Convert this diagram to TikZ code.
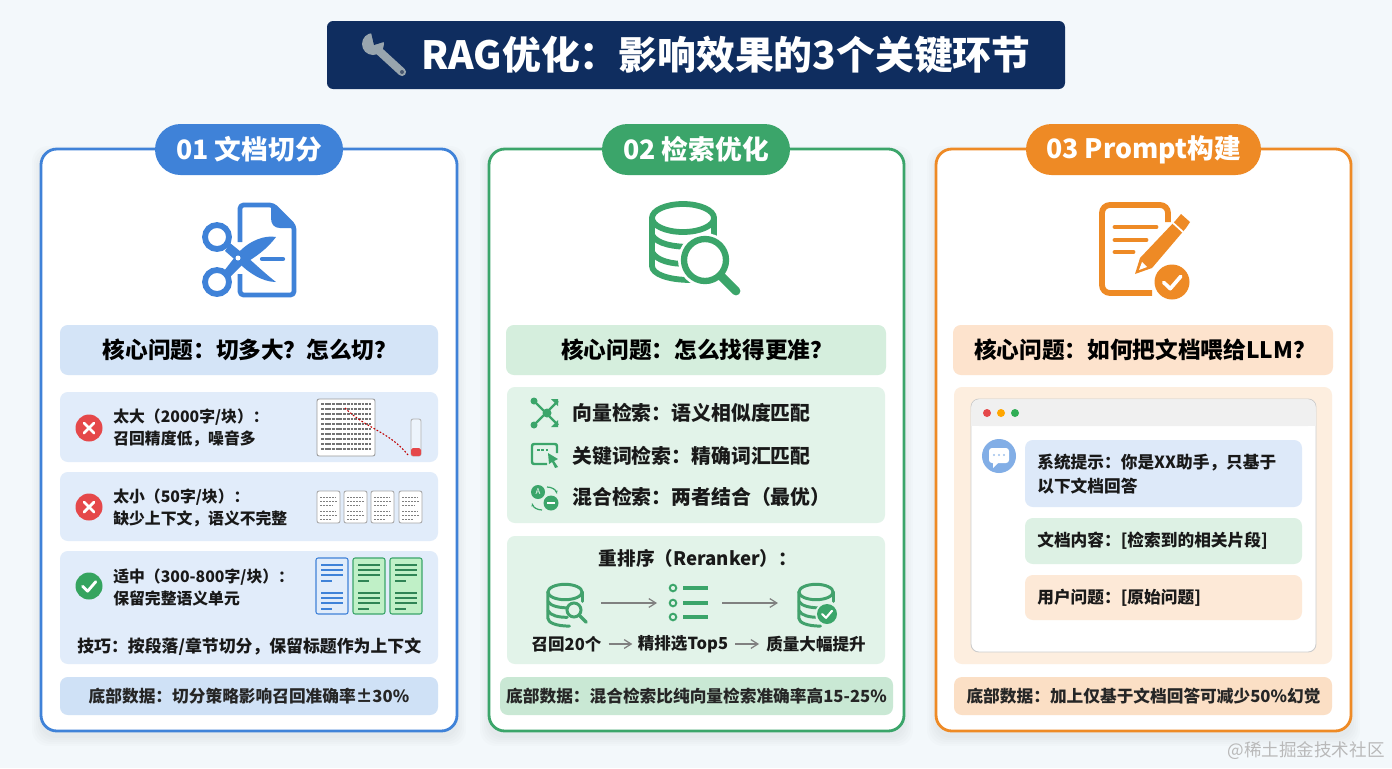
\documentclass[tikz,border=0pt]{standalone}
\usepackage{fontspec}
\setmainfont{Noto Sans CJK SC}
\usetikzlibrary{arrows.meta}

\definecolor{pagebg}{HTML}{F3F8FB}
\definecolor{navy}{HTML}{0F2D5F}
\definecolor{blueA}{HTML}{3F82D8}
\definecolor{blueB}{HTML}{D4E4F7}
\definecolor{blueC}{HTML}{E1ECFA}
\definecolor{blueD}{HTML}{CFE1F6}
\definecolor{greenA}{HTML}{3BA56A}
\definecolor{greenB}{HTML}{D5EEDD}
\definecolor{greenC}{HTML}{E2F3E9}
\definecolor{greenD}{HTML}{C9E8D4}
\definecolor{orangeA}{HTML}{EE8A25}
\definecolor{orangeB}{HTML}{FDE3CD}
\definecolor{orangeC}{HTML}{FDEEDF}
\definecolor{orangeD}{HTML}{FBDFC5}
\definecolor{badred}{HTML}{E5484A}
\definecolor{goodgreen}{HTML}{35A45F}
\definecolor{steelgray}{HTML}{98A5AE}

\newcommand{\softshadow}[4]{%
  \foreach \s in {1,3,5,7,9} {
    \fill[black, opacity=0.012, rounded corners=9pt] (#1-\s,#2-\s+6) rectangle (#3+\s,#4+\s+6);
  }}
\newcommand{\checkbadge}[4]{%
  \fill[#4] (#1,#2) circle (#3);
  \draw[white, line width=0.12*#3 pt, line cap=round, line join=round]
    (#1-0.48*#3,#2+0.02*#3) -- (#1-0.1*#3,#2+0.38*#3) -- (#1+0.5*#3,#2-0.32*#3);}
\newcommand{\crossbadge}[3]{%
  \fill[badred] (#1,#2) circle (#3);
  \draw[white, line width=1.6pt, line cap=round]
    (#1-5,#2-5) -- (#1+5,#2+5) (#1-5,#2+5) -- (#1+5,#2-5);}
\newcommand{\dbshape}[5]{%
  \begin{scope}[shift={(#1,#2)}, scale=#3, draw=#4, line width=#5]
    \draw (0,0) ellipse (31 and 14);
    \draw[line cap=round] (-31,0) -- (-31,48) .. controls (-31,56) and (-15,62) .. (8,62);
    \draw[line cap=round] (31,0) -- (31,17);
    \draw[line cap=round] (-31,17) .. controls (-26,26) and (-10,29) .. (10,29);
    \draw[line cap=round] (-31,34) .. controls (-26,43) and (-12,46) .. (4,46);
  \end{scope}}
\newcommand{\docwithlines}[5]{%
  \draw[#3, fill=#4, line width=0.6pt, rounded corners=1.2pt] (#1,#2) rectangle (#1+32,#2+56);
  \foreach \d/\e in {7/27,12/27,17/27,23/16,35/27,40/27,45/27,51/16} {
    \draw[#5, line width=0.7pt] (#1+5,#2+\d) -- (#1+\e,#2+\d);
  }}
\newcommand{\smallpage}[2]{%
  \draw[gray!70, fill=white, line width=0.5pt, rounded corners=1.2pt] (#1,#2) rectangle (#1+23,#2+32);
  \foreach \d/\e in {6/19,10/20,14/15,20/19,24/20,28/14} {
    \draw[black!50, line width=0.5pt, dash pattern=on 1.2pt off 0.5pt] (#1+3,#2+\d) -- (#1+\e,#2+\d);
  }}

\tikzset{
  cardbox/.style={fill=white, line width=1.6pt, rounded corners=9pt},
  panel/.style={rounded corners=4.5pt},
  pill/.style={rounded corners=14.5pt},
  pilltext/.style={text=white, font=\fontsize{15.2}{19}\selectfont\bfseries},
  coretext/.style={text=black, font=\fontsize{12.9}{16}\selectfont\bfseries},
  rowtext/.style={anchor=west, align=left, inner sep=0pt, text=black!90,
    font=\fontsize{9}{12.5}\selectfont\bfseries},
  listtext/.style={anchor=west, inner sep=0pt, text=black!90,
    font=\fontsize{11.3}{14}\selectfont\bfseries},
  foottext/.style={inner sep=0pt, text=black!85,
    font=\fontsize{9.5}{12}\selectfont\bfseries},
  steptext/.style={inner sep=0pt, text=black!90,
    font=\fontsize{9.4}{12}\selectfont\bfseries},
  flowline/.style={-{Straight Barb[length=4pt,width=5pt]}, gray, line width=0.7pt},
}

\begin{document}
\begin{tikzpicture}[x=0.02cm, y=-0.02cm]
    \useasboundingbox (0,0) rectangle (1392,768);
    \fill[pagebg] (0,0) rectangle (1392,768);

    % title bar
    \fill[navy, rounded corners=3.5pt] (327,21) rectangle (1065,89);
    \fill[steelgray] (373,44) circle (11);
    \fill[navy] (374,45) -- (370,28) -- (390,40) -- cycle;
    \draw[steelgray, line width=4.6pt, line cap=round] (378,50) -- (402,72);
    \fill[navy!50!gray] (402,72) circle (2);
    \node[text=white, inner sep=0pt, font=\fontsize{22.1}{26}\selectfont\bfseries] (title)
        at (726,55) {RAG优化：影响效果的3个关键环节};

    % cards
    \softshadow{41}{149}{457}{731}
    \softshadow{489}{149}{904}{731}
    \softshadow{936}{149}{1351}{731}
    \draw[cardbox, draw=blueA] (41,149) rectangle (457,731);
    \draw[cardbox, draw=greenA] (489,149) rectangle (904,731);
    \draw[cardbox, draw=orangeA] (936,149) rectangle (1351,731);

    \fill[pill, fill=blueA] (155,124) rectangle (343,175);
    \node[pilltext] (pillA) at (249,149.5) {01 文档切分};
    \fill[pill, fill=greenA] (602,124) rectangle (790,175);
    \node[pilltext] (pillB) at (696,149.5) {02 检索优化};
    \fill[pill, fill=orangeA] (1026,124) rectangle (1261,175);
    \node[pilltext] (pillC) at (1143.5,149.5) {03 Prompt构建};

    % scissors icon
    \draw[blueA, line width=2.7pt, line join=round, rounded corners=2pt]
        (240,242) -- (240,205) -- (273,205) -- (294,226) -- (294,295) -- (240,295) -- (240,274);
    \fill[blueA] (271,204) -- (296,228) -- (280,228) .. controls (274,228) and (271,224) .. (271,218) -- cycle;
    \draw[blueA, line width=3.3pt] (217,237) circle (12);
    \draw[blueA, line width=3.3pt] (217,282) circle (12);
    \fill[blueA] (224,271) -- (238,253) .. controls (250,240) and (265,235) .. (276,237)
        .. controls (268,248) and (255,258) .. (243,264) -- (230,277) -- cycle;
    \fill[blueA] (230,243) -- (246,256) .. controls (255,264) and (268,276) .. (276,282)
        .. controls (262,282) and (248,272) .. (240,264) -- (225,251) -- cycle;
    \fill[white] (238,258) circle (2.5);
    \draw[blueA, line width=2.4pt, line cap=round] (262,259) -- (283,259);

    % database icon
    \dbshape{683}{218}{1}{greenA}{3.3pt}
    \fill[white] (705,260) circle (27);
    \draw[greenA, fill=white, line width=3.6pt] (705,260) circle (21);
    \draw[greenA, line width=5pt, line cap=round] (722,277) -- (736,291);

    % prompt icon
    \draw[orangeA, line width=3.3pt, rounded corners=4.5pt]
        (1168,222) -- (1168,205) -- (1102,205) -- (1102,293) -- (1152,293);
    \draw[orangeA, line width=2.8pt, line cap=round] (1115,227) -- (1156,227) (1115,240) -- (1146,240) (1115,252) -- (1133,252);
    \fill[orangeA] (1135,274) -- (1140,258) -- (1176,220) -- (1181,214) -- (1190,222) -- (1186,228)
        -- (1152,268) -- cycle;
    \draw[white, line width=1pt] (1172,222) -- (1183,232);
    \fill[white] (1139,270) -- (1142,262) -- (1147,267) -- cycle;
    \fill[white] (1172,282) circle (20);
    \checkbadge{1172}{282}{17.5}{orangeA}

    % core questions
    \fill[panel, fill=blueB] (60,325) rectangle (438,375);
    \node[coretext] (coreA) at (250,350) {核心问题：切多大？怎么切？};
    \fill[panel, fill=greenB] (506,325) rectangle (886,375);
    \node[coretext] (coreB) at (697,350) {核心问题：怎么找得更准？};
    \fill[panel, fill=orangeB] (953,325) rectangle (1333,375);
    \node[coretext] (coreC) at (1145,350) {核心问题：如何把文档喂给LLM？};

    % card 1 rows
    \fill[panel, fill=blueC] (60,392) rectangle (438,462);
    \crossbadge{89}{428}{13.5}
    \node[rowtext] (rowA) at (113,428) {太大（2000字/块）：\\召回精度低，噪音多};
    \draw[gray!80, fill=white, line width=0.5pt, rounded corners=1.2pt] (317,399) rectangle (375,456);
    \foreach \y in {404,409,...,452} {
        \draw[black!55, line width=0.6pt, dash pattern=on 1.6pt off 0.5pt] (321,\y) -- (371,\y);
    }
    \draw[red!75!black, line width=0.6pt, dash pattern=on 1pt off 1pt] (345,408) .. controls (365,428) and (390,432) .. (408,455);
    \draw[gray!60, fill=blueC!60!white, line width=0.5pt, rounded corners=1.2pt] (411,419) rectangle (421,456);
    \fill[badred, rounded corners=1pt] (411,448) rectangle (421,456);

    \fill[panel, fill=blueC] (60,472) rectangle (438,541);
    \crossbadge{89}{507}{13.5}
    \node[rowtext] (rowB) at (113,508) {太小（50字/块）：\\缺少上下文，语义不完整};
    \smallpage{317}{491}
    \smallpage{344}{491}
    \smallpage{371}{491}
    \smallpage{399}{491}

    \fill[panel, fill=blueC] (60,551) rectangle (438,664);
    \checkbadge{89}{586}{13.5}{goodgreen}
    \node[rowtext] (rowC) at (113,587) {适中（300-800字/块）：\\保留完整语义单元};
    \docwithlines{316}{558}{blueA}{blueC}{blueA}
    \docwithlines{353}{558}{greenA}{greenB!90!green}{greenA!80!black}
    \docwithlines{390}{558}{greenA}{greenB!90!green}{greenA!80!black}
    \node[rowtext, font=\fontsize{9.6}{12}\selectfont\bfseries] (tipA) at (77,647) {技巧：按段落/章节切分，保留标题作为上下文};

    \fill[panel, fill=blueD] (60,677) rectangle (438,715);
    \node[foottext] (footA) at (249,696) {底部数据：切分策略影响召回准确率±30\%};

    % card 2 rows
    \fill[panel, fill=greenC] (507,387) rectangle (885,523);
    \draw[greenA, line width=1.3pt] (534,401) -- (558,425) (534,425) -- (558,401);
    \fill[greenA] (547,413) circle (4.5) (534,401) circle (3.5) (534,425) circle (3.5);
    \fill[greenA] (551,399) -- (558,399) -- (558,406) -- cycle (551,427) -- (558,427) -- (558,420) -- cycle;
    \node[listtext] (listA) at (572,413) {向量检索：语义相似度匹配};
    \draw[greenA, line width=1.4pt, rounded corners=1.2pt] (547,464) -- (532,464) -- (532,444) -- (557,444) -- (557,453);
    \draw[greenA, line width=1.4pt, dash pattern=on 1.5pt off 1pt] (537,450) -- (548,450);
    \fill[greenA] (548,453) -- (558,459) -- (554,461) -- (558,467) -- (555,468) -- (552,462) -- (549,464) -- cycle;
    \node[listtext] (listB) at (572,456) {关键词检索：精确词汇匹配};
    \fill[greenA] (538,492) circle (7);
    \fill[greenA] (551,503) circle (7.5);
    \node[text=white, inner sep=0pt, font=\fontsize{4.5}{5}\selectfont] (markA) at (538,492) {A};
    \draw[white, line width=0.7pt] (547,503) -- (555,503);
    \draw[greenA, line width=0.7pt, -{Stealth[length=2pt]}] (547,487) .. controls (552,487) and (556,490) .. (557,494);
    \draw[greenA, line width=0.7pt, -{Stealth[length=2pt]}] (542,510) .. controls (537,510) and (533,507) .. (532,503);
    \node[listtext] (listC) at (572,497) {混合检索：两者结合（最优）};

    \fill[panel, fill=greenC] (507,536) rectangle (885,664);
    \node[inner sep=0pt, text=black!90, font=\fontsize{10.6}{13}\selectfont\bfseries] (rerank) at (698,558) {重排序（Reranker）：};
    \dbshape{565}{592}{0.55}{greenA!90!gray}{1.7pt}
    \draw[greenA!90!gray, fill=greenC, line width=1.7pt] (574,610) circle (7);
    \draw[greenA!90!gray, line width=2pt, line cap=round] (579,615) -- (586,622);
    \coordinate (iconAr) at (601,603);
    \coordinate (iconBl) at (657,603);
    \draw[flowline] (iconAr) -- (iconBl);
    \foreach \y in {588,603,617} {
        \draw[greenA, line width=1.1pt] (673,\y) circle (3.3);
        \draw[greenA, line width=1.8pt] (683,\y) -- (708,\y);
    }
    \coordinate (iconBr) at (722,603);
    \coordinate (iconCl) at (778,603);
    \draw[flowline] (iconBr) -- (iconCl);
    \dbshape{816}{592}{0.55}{greenA!90!gray}{1.7pt}
    \fill[greenC] (827,614) circle (12);
    \checkbadge{827}{614}{10}{greenA}
    \node[steptext] (stepA) at (566.5,644) {召回20个};
    \node[steptext] (stepB) at (683,644) {精排选Top5};
    \node[steptext] (stepC) at (816,644) {质量大幅提升};
    \draw[flowline] ([xshift=4pt]stepA.east) -- ([xshift=-3pt]stepB.west);
    \draw[flowline] ([xshift=4pt]stepB.east) -- ([xshift=-4pt]stepC.west);

    \fill[panel, fill=greenD] (500,677) rectangle (893,715);
    \node[foottext] (footB) at (696.5,696) {底部数据：混合检索比纯向量检索准确率高15-25\%};

    % card 3 rows
    \fill[panel, fill=orangeC] (954,387) rectangle (1332,664);
    \draw[gray!40, fill=white, line width=0.5pt, rounded corners=4.5pt] (971,399) rectangle (1316,652);
    \fill[black!6, rounded corners=4.5pt] (971.4,399.4) -- (1315.6,399.4) -- (1315.6,426) -- (971.4,426) -- cycle;
    \fill[black!6] (971.4,412) rectangle (1315.6,426);
    \fill[badred] (987,413) circle (4);
    \fill[orange!70!yellow] (1001,413) circle (4);
    \fill[goodgreen!90!green] (1015,413) circle (4);
    \fill[blueA!65] (999,456) circle (17);
    \fill[white, rounded corners=1.7pt] (989,448) rectangle (1009,463);
    \fill[white] (993,462) -- (993,468) -- (999,462) -- cycle;
    \foreach \dx in {-5,0,5} {
        \fill[blueA!50] (999+\dx,455) circle (1.1);
    }
    \fill[panel, fill=blueB!80!white] (1025,440) rectangle (1302,507);
    \node[rowtext, font=\fontsize{9.5}{13.6}\selectfont\bfseries] (sysmsg) at (1037,474) {系统提示：你是XX助手，只基于\\以下文档回答};
    \fill[panel, fill=greenB!80!white] (1025,518) rectangle (1302,564);
    \node[rowtext, font=\fontsize{9.5}{13.6}\selectfont\bfseries] (docmsg) at (1037,541) {文档内容：[检索到的相关片段]};
    \fill[panel, fill=orangeB!80!white] (1025,575) rectangle (1302,620);
    \node[rowtext, font=\fontsize{9.5}{13.6}\selectfont\bfseries] (usermsg) at (1037,598) {用户问题：[原始问题]};

    \fill[panel, fill=orangeD] (954,677) rectangle (1332,715);
    \node[foottext] (footC) at (1143.5,696) {底部数据：加上仅基于文档回答可减少50\%幻觉};

    \node[inner sep=0pt, text=gray!55, font=\fontsize{10}{12}\selectfont] (wmark) at (1306,751) {@稀土掘金技术社区};
\end{tikzpicture}
\end{document}
